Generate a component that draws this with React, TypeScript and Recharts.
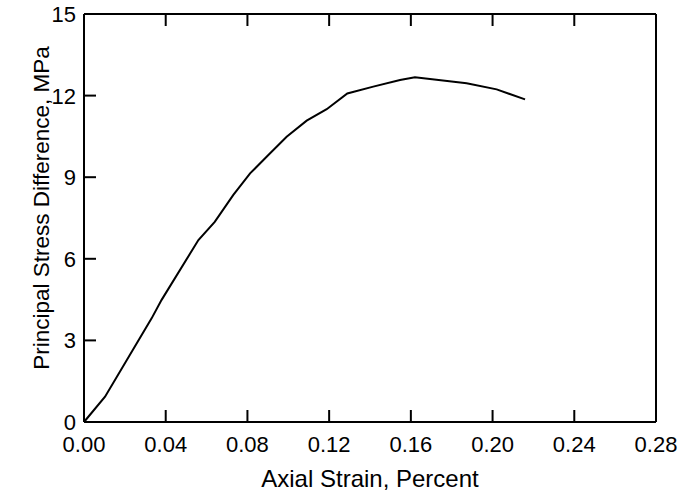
import React from 'react';
import { LineChart, Line, XAxis, YAxis, Label } from 'recharts';

// values
const strain = [0, 0.0103, 0.0331, 0.038, 0.056, 0.064, 0.0731, 0.0813, 0.0894, 0.0992, 0.109, 0.1188, 0.1289, 0.1416, 0.1547, 0.162, 0.1873, 0.202, 0.2159];
const stress = [0, 0.93, 3.81, 4.49, 6.69, 7.36, 8.35, 9.14, 9.75, 10.49, 11.08, 11.5, 12.08, 12.33, 12.57, 12.67, 12.45, 12.23, 11.86];

const xTicks = [0, 0.04, 0.08, 0.12, 0.16, 0.2, 0.24, 0.28];
const yTicks = [0, 3, 6, 9, 12, 15];

const data = strain.map((s, i) => ({ strain: s, stress: stress[i] }));

const FONT = '"Liberation Sans", Arial, sans-serif';
const TICK_LEN = 12;
const X_MARGIN = 14;
const Y_MARGIN = 10;
const TICK_FONT = 22;

// inward tick marks drawn by hand, labels outside
const BottomTick = (props: any) => {
  const { x, y, payload } = props;
  const y0 = y - X_MARGIN;
  return (
    <g>
      <line x1={x} y1={y0} x2={x} y2={y0 - TICK_LEN} stroke="#000" strokeWidth={2} />
      <text x={x} y={y0 + 30} textAnchor="middle" fontSize={TICK_FONT} fontFamily={FONT} fill="#000">
        {payload.value.toFixed(2)}
      </text>
    </g>
  );
};

const TopTick = (props: any) => {
  const { x, y } = props;
  return <line x1={x} y1={y} x2={x} y2={y + TICK_LEN} stroke="#000" strokeWidth={2} />;
};

const LeftTick = (props: any) => {
  const { x, y, payload } = props;
  const x0 = x + Y_MARGIN;
  return (
    <g>
      <line x1={x0} y1={y} x2={x0 + TICK_LEN} y2={y} stroke="#000" strokeWidth={2} />
      <text x={x0 - 8} y={y + 8} textAnchor="end" fontSize={TICK_FONT} fontFamily={FONT} fill="#000">
        {payload.value}
      </text>
    </g>
  );
};

const RightTick = (props: any) => {
  const { x, y } = props;
  return <line x1={x} y1={y} x2={x - TICK_LEN} y2={y} stroke="#000" strokeWidth={2} />;
};

const YLabel = (p: any) => {
  const vb = p.viewBox;
  const cx = 49;
  const cy = vb.y + vb.height / 2 - 10;
  return (
    <text
      x={cx}
      y={cy}
      transform={`rotate(-90, ${cx}, ${cy})`}
      textAnchor="middle"
      fontSize={22.5}
      fontFamily={FONT}
      fill="#000"
    >
      Principal Stress Difference, MPa
    </text>
  );
};

export default function App() {
  return (
    <div style={{ position: 'absolute', left: 0, top: 0, background: '#fff' }}>
      <LineChart width={692} height={495} data={data} margin={{ top: 13, right: 35, left: 0, bottom: 0 }}>
        <XAxis
          xAxisId="b"
          dataKey="strain"
          type="number"
          domain={[0, 0.28]}
          ticks={xTicks}
          height={73}
          tickSize={0}
          tickMargin={X_MARGIN}
          tick={<BottomTick />}
          axisLine={{ stroke: '#000', strokeWidth: 2 }}
          interval={0}
        >
          <Label
            value="Axial Strain, Percent"
            position="insideBottom"
            offset={8}
            style={{ fontSize: 24, fontFamily: FONT, fill: '#000' }}
          />
        </XAxis>
        <XAxis
          xAxisId="t"
          orientation="top"
          dataKey="strain"
          type="number"
          domain={[0, 0.28]}
          ticks={xTicks}
          height={1}
          tickSize={0}
          tickMargin={0}
          tick={<TopTick />}
          axisLine={{ stroke: '#000', strokeWidth: 2 }}
          interval={0}
        />
        <YAxis
          yAxisId="l"
          type="number"
          domain={[0, 15]}
          ticks={yTicks}
          width={84}
          tickSize={0}
          tickMargin={Y_MARGIN}
          tick={<LeftTick />}
          axisLine={{ stroke: '#000', strokeWidth: 2 }}
          interval={0}
        >
          <Label position="center" content={<YLabel />} />
        </YAxis>
        <YAxis
          yAxisId="r"
          orientation="right"
          type="number"
          domain={[0, 15]}
          ticks={yTicks}
          width={1}
          tickSize={0}
          tickMargin={0}
          tick={<RightTick />}
          axisLine={{ stroke: '#000', strokeWidth: 2 }}
          interval={0}
        />
        <Line
          xAxisId="b"
          yAxisId="l"
          type="linear"
          dataKey="stress"
          stroke="#000"
          strokeWidth={2}
          dot={false}
          isAnimationActive={false}
        />
      </LineChart>
    </div>
  );
}
